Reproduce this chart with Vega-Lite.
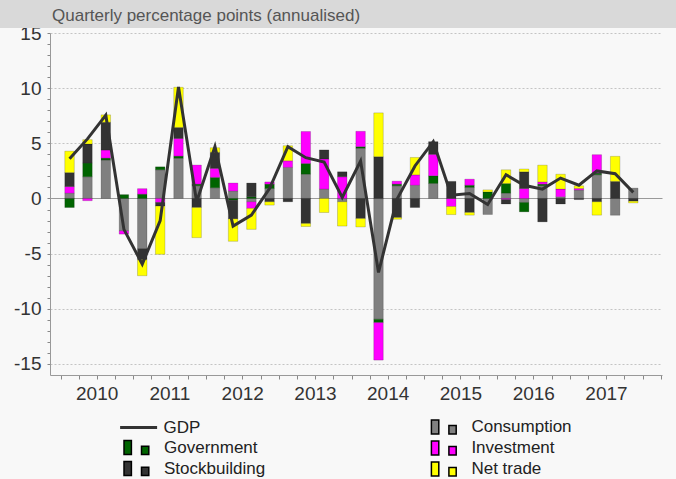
{
  "$schema": "https://vega.github.io/schema/vega-lite/v6.json",
  "width": 612,
  "height": 342,
  "autosize": {"type": "none"},
  "padding": {"left": 50, "top": 33, "right": 14, "bottom": 104},
  "background": "#f8f8f8",
  "config": {"view": {"stroke": null}, "font": "Liberation Sans"},
  "title": {"text": "Quarterly percentage points (annualised)", "anchor": "start", "frame": "group", "fontSize": 17, "fontWeight": "normal", "color": "#555555", "font": "Liberation Sans", "offset": -25, "dx": 2},
  "resolve": {"legend": {"color": "independent"}},
  "datasets": {
    "bars": [
      {"date": "2010-02-15", "component": "Consumption", "value": 0.48, "order": 1},
      {"date": "2010-02-15", "component": "Government", "value": -0.82, "order": 2},
      {"date": "2010-02-15", "component": "Investment", "value": 0.6, "order": 3},
      {"date": "2010-02-15", "component": "Stockbuilding", "value": 1.27, "order": 4},
      {"date": "2010-02-15", "component": "Net trade", "value": 1.94, "order": 5},
      {"date": "2010-05-16", "component": "Consumption", "value": 1.97, "order": 1},
      {"date": "2010-05-16", "component": "Government", "value": 1.24, "order": 2},
      {"date": "2010-05-16", "component": "Investment", "value": -0.2, "order": 3},
      {"date": "2010-05-16", "component": "Stockbuilding", "value": 1.73, "order": 4},
      {"date": "2010-05-16", "component": "Net trade", "value": 0.39, "order": 5},
      {"date": "2010-08-16", "component": "Consumption", "value": 3.48, "order": 1},
      {"date": "2010-08-16", "component": "Government", "value": 0.18, "order": 2},
      {"date": "2010-08-16", "component": "Investment", "value": 0.73, "order": 3},
      {"date": "2010-08-16", "component": "Stockbuilding", "value": 2.52, "order": 4},
      {"date": "2010-08-16", "component": "Net trade", "value": 0.67, "order": 5},
      {"date": "2010-11-15", "component": "Consumption", "value": -2.93, "order": 1},
      {"date": "2010-11-15", "component": "Government", "value": 0.35, "order": 2},
      {"date": "2010-11-15", "component": "Investment", "value": -0.3, "order": 3},
      {"date": "2011-02-15", "component": "Consumption", "value": -4.55, "order": 1},
      {"date": "2011-02-15", "component": "Government", "value": 0.39, "order": 2},
      {"date": "2011-02-15", "component": "Investment", "value": 0.5, "order": 3},
      {"date": "2011-02-15", "component": "Stockbuilding", "value": -1.0, "order": 4},
      {"date": "2011-02-15", "component": "Net trade", "value": -1.45, "order": 5},
      {"date": "2011-05-16", "component": "Consumption", "value": 2.6, "order": 1},
      {"date": "2011-05-16", "component": "Government", "value": 0.27, "order": 2},
      {"date": "2011-05-16", "component": "Investment", "value": -0.36, "order": 3},
      {"date": "2011-05-16", "component": "Stockbuilding", "value": -0.33, "order": 4},
      {"date": "2011-05-16", "component": "Net trade", "value": -4.37, "order": 5},
      {"date": "2011-08-16", "component": "Consumption", "value": 3.64, "order": 1},
      {"date": "2011-08-16", "component": "Government", "value": 0.2, "order": 2},
      {"date": "2011-08-16", "component": "Investment", "value": 1.6, "order": 3},
      {"date": "2011-08-16", "component": "Stockbuilding", "value": 1.0, "order": 4},
      {"date": "2011-08-16", "component": "Net trade", "value": 3.64, "order": 5},
      {"date": "2011-11-15", "component": "Consumption", "value": 1.15, "order": 1},
      {"date": "2011-11-15", "component": "Government", "value": 0.15, "order": 2},
      {"date": "2011-11-15", "component": "Investment", "value": 1.73, "order": 3},
      {"date": "2011-11-15", "component": "Stockbuilding", "value": -0.82, "order": 4},
      {"date": "2011-11-15", "component": "Net trade", "value": -2.73, "order": 5},
      {"date": "2012-02-15", "component": "Consumption", "value": 0.97, "order": 1},
      {"date": "2012-02-15", "component": "Government", "value": 0.94, "order": 2},
      {"date": "2012-02-15", "component": "Investment", "value": 0.82, "order": 3},
      {"date": "2012-02-15", "component": "Stockbuilding", "value": 1.45, "order": 4},
      {"date": "2012-02-15", "component": "Net trade", "value": 0.42, "order": 5},
      {"date": "2012-05-16", "component": "Consumption", "value": 0.67, "order": 1},
      {"date": "2012-05-16", "component": "Government", "value": -0.15, "order": 2},
      {"date": "2012-05-16", "component": "Investment", "value": 0.73, "order": 3},
      {"date": "2012-05-16", "component": "Stockbuilding", "value": -1.7, "order": 4},
      {"date": "2012-05-16", "component": "Net trade", "value": -2.03, "order": 5},
      {"date": "2012-08-16", "component": "Consumption", "value": -0.3, "order": 1},
      {"date": "2012-08-16", "component": "Government", "value": 0.15, "order": 2},
      {"date": "2012-08-16", "component": "Investment", "value": -0.6, "order": 3},
      {"date": "2012-08-16", "component": "Stockbuilding", "value": 1.25, "order": 4},
      {"date": "2012-08-16", "component": "Net trade", "value": -1.9, "order": 5},
      {"date": "2012-11-15", "component": "Consumption", "value": 0.9, "order": 1},
      {"date": "2012-11-15", "component": "Government", "value": 0.4, "order": 2},
      {"date": "2012-11-15", "component": "Investment", "value": 0.2, "order": 3},
      {"date": "2012-11-15", "component": "Stockbuilding", "value": -0.3, "order": 4},
      {"date": "2012-11-15", "component": "Net trade", "value": -0.3, "order": 5},
      {"date": "2013-02-15", "component": "Consumption", "value": 2.82, "order": 1},
      {"date": "2013-02-15", "component": "Investment", "value": 0.6, "order": 3},
      {"date": "2013-02-15", "component": "Stockbuilding", "value": -0.3, "order": 4},
      {"date": "2013-02-15", "component": "Net trade", "value": 1.36, "order": 5},
      {"date": "2013-05-16", "component": "Consumption", "value": 2.2, "order": 1},
      {"date": "2013-05-16", "component": "Government", "value": 0.97, "order": 2},
      {"date": "2013-05-16", "component": "Investment", "value": 2.9, "order": 3},
      {"date": "2013-05-16", "component": "Stockbuilding", "value": -2.27, "order": 4},
      {"date": "2013-05-16", "component": "Net trade", "value": -0.27, "order": 5},
      {"date": "2013-08-16", "component": "Consumption", "value": 0.85, "order": 1},
      {"date": "2013-08-16", "component": "Investment", "value": 2.73, "order": 3},
      {"date": "2013-08-16", "component": "Stockbuilding", "value": 0.82, "order": 4},
      {"date": "2013-08-16", "component": "Net trade", "value": -1.27, "order": 5},
      {"date": "2013-11-15", "component": "Consumption", "value": -0.3, "order": 1},
      {"date": "2013-11-15", "component": "Investment", "value": 1.97, "order": 3},
      {"date": "2013-11-15", "component": "Stockbuilding", "value": 0.45, "order": 4},
      {"date": "2013-11-15", "component": "Net trade", "value": -2.2, "order": 5},
      {"date": "2014-02-15", "component": "Consumption", "value": 4.55, "order": 1},
      {"date": "2014-02-15", "component": "Government", "value": 0.15, "order": 2},
      {"date": "2014-02-15", "component": "Investment", "value": 1.39, "order": 3},
      {"date": "2014-02-15", "component": "Stockbuilding", "value": -1.82, "order": 4},
      {"date": "2014-02-15", "component": "Net trade", "value": -0.76, "order": 5},
      {"date": "2014-05-16", "component": "Consumption", "value": -10.95, "order": 1},
      {"date": "2014-05-16", "component": "Government", "value": -0.3, "order": 2},
      {"date": "2014-05-16", "component": "Investment", "value": -3.4, "order": 3},
      {"date": "2014-05-16", "component": "Stockbuilding", "value": 3.79, "order": 4},
      {"date": "2014-05-16", "component": "Net trade", "value": 3.97, "order": 5},
      {"date": "2014-08-16", "component": "Consumption", "value": 1.15, "order": 1},
      {"date": "2014-08-16", "component": "Government", "value": 0.15, "order": 2},
      {"date": "2014-08-16", "component": "Investment", "value": 0.27, "order": 3},
      {"date": "2014-08-16", "component": "Stockbuilding", "value": -1.73, "order": 4},
      {"date": "2014-08-16", "component": "Net trade", "value": -0.15, "order": 5},
      {"date": "2014-11-15", "component": "Consumption", "value": 1.2, "order": 1},
      {"date": "2014-11-15", "component": "Investment", "value": 0.94, "order": 3},
      {"date": "2014-11-15", "component": "Stockbuilding", "value": -0.82, "order": 4},
      {"date": "2014-11-15", "component": "Net trade", "value": 1.58, "order": 5},
      {"date": "2015-02-15", "component": "Consumption", "value": 1.36, "order": 1},
      {"date": "2015-02-15", "component": "Government", "value": 0.7, "order": 2},
      {"date": "2015-02-15", "component": "Investment", "value": 1.94, "order": 3},
      {"date": "2015-02-15", "component": "Stockbuilding", "value": 1.15, "order": 4},
      {"date": "2015-05-16", "component": "Investment", "value": -0.73, "order": 3},
      {"date": "2015-05-16", "component": "Stockbuilding", "value": 1.55, "order": 4},
      {"date": "2015-05-16", "component": "Net trade", "value": -0.73, "order": 5},
      {"date": "2015-08-16", "component": "Consumption", "value": 1.0, "order": 1},
      {"date": "2015-08-16", "component": "Government", "value": 0.2, "order": 2},
      {"date": "2015-08-16", "component": "Investment", "value": 0.55, "order": 3},
      {"date": "2015-08-16", "component": "Stockbuilding", "value": -1.27, "order": 4},
      {"date": "2015-08-16", "component": "Net trade", "value": -0.24, "order": 5},
      {"date": "2015-11-15", "component": "Consumption", "value": -1.45, "order": 1},
      {"date": "2015-11-15", "component": "Government", "value": 0.6, "order": 2},
      {"date": "2015-11-15", "component": "Net trade", "value": 0.18, "order": 5},
      {"date": "2016-02-15", "component": "Consumption", "value": 0.48, "order": 1},
      {"date": "2016-02-15", "component": "Government", "value": 0.88, "order": 2},
      {"date": "2016-02-15", "component": "Investment", "value": -0.1, "order": 3},
      {"date": "2016-02-15", "component": "Stockbuilding", "value": -0.4, "order": 4},
      {"date": "2016-02-15", "component": "Net trade", "value": 1.24, "order": 5},
      {"date": "2016-05-16", "component": "Consumption", "value": -0.36, "order": 1},
      {"date": "2016-05-16", "component": "Government", "value": -0.85, "order": 2},
      {"date": "2016-05-16", "component": "Investment", "value": 0.9, "order": 3},
      {"date": "2016-05-16", "component": "Stockbuilding", "value": 1.52, "order": 4},
      {"date": "2016-05-16", "component": "Net trade", "value": 0.25, "order": 5},
      {"date": "2016-08-16", "component": "Consumption", "value": 1.15, "order": 1},
      {"date": "2016-08-16", "component": "Government", "value": 0.15, "order": 2},
      {"date": "2016-08-16", "component": "Investment", "value": 0.2, "order": 3},
      {"date": "2016-08-16", "component": "Stockbuilding", "value": -2.12, "order": 4},
      {"date": "2016-08-16", "component": "Net trade", "value": 1.52, "order": 5},
      {"date": "2016-11-15", "component": "Consumption", "value": 0.15, "order": 1},
      {"date": "2016-11-15", "component": "Investment", "value": 0.7, "order": 3},
      {"date": "2016-11-15", "component": "Stockbuilding", "value": -0.5, "order": 4},
      {"date": "2016-11-15", "component": "Net trade", "value": 1.35, "order": 5},
      {"date": "2017-02-15", "component": "Consumption", "value": 0.76, "order": 1},
      {"date": "2017-02-15", "component": "Investment", "value": 0.15, "order": 3},
      {"date": "2017-02-15", "component": "Stockbuilding", "value": -0.1, "order": 4},
      {"date": "2017-02-15", "component": "Net trade", "value": 0.24, "order": 5},
      {"date": "2017-05-16", "component": "Consumption", "value": 2.15, "order": 1},
      {"date": "2017-05-16", "component": "Government", "value": 0.15, "order": 2},
      {"date": "2017-05-16", "component": "Investment", "value": 1.67, "order": 3},
      {"date": "2017-05-16", "component": "Stockbuilding", "value": -0.3, "order": 4},
      {"date": "2017-05-16", "component": "Net trade", "value": -1.21, "order": 5},
      {"date": "2017-08-16", "component": "Consumption", "value": -1.52, "order": 1},
      {"date": "2017-08-16", "component": "Stockbuilding", "value": 1.55, "order": 4},
      {"date": "2017-08-16", "component": "Net trade", "value": 2.27, "order": 5},
      {"date": "2017-11-15", "component": "Consumption", "value": 0.94, "order": 1},
      {"date": "2017-11-15", "component": "Stockbuilding", "value": -0.25, "order": 4},
      {"date": "2017-11-15", "component": "Net trade", "value": -0.15, "order": 5}
    ],
    "gdp": [
      {"date": "2010-02-15", "value": 3.6},
      {"date": "2010-05-16", "value": 5.4},
      {"date": "2010-08-16", "value": 7.55},
      {"date": "2010-11-15", "value": -2.8},
      {"date": "2011-02-15", "value": -5.95},
      {"date": "2011-05-16", "value": -2.0},
      {"date": "2011-08-16", "value": 10.1},
      {"date": "2011-11-15", "value": -0.3},
      {"date": "2012-02-15", "value": 4.7},
      {"date": "2012-05-16", "value": -2.5},
      {"date": "2012-08-16", "value": -1.5},
      {"date": "2012-11-15", "value": 0.9},
      {"date": "2013-02-15", "value": 4.7},
      {"date": "2013-05-16", "value": 3.7},
      {"date": "2013-08-16", "value": 3.3},
      {"date": "2013-11-15", "value": 0.1},
      {"date": "2014-02-15", "value": 3.4},
      {"date": "2014-05-16", "value": -6.7},
      {"date": "2014-08-16", "value": -0.1},
      {"date": "2014-11-15", "value": 2.95},
      {"date": "2015-02-15", "value": 5.15},
      {"date": "2015-05-16", "value": 0.3},
      {"date": "2015-08-16", "value": 0.45},
      {"date": "2015-11-15", "value": -0.55},
      {"date": "2016-02-15", "value": 2.15},
      {"date": "2016-05-16", "value": 1.2},
      {"date": "2016-08-16", "value": 0.85},
      {"date": "2016-11-15", "value": 1.85},
      {"date": "2017-02-15", "value": 1.2},
      {"date": "2017-05-16", "value": 2.5},
      {"date": "2017-08-16", "value": 2.25},
      {"date": "2017-11-15", "value": 0.55}
    ]
  },
  "layer": [
    {
      "data": {"values": [{}]},
      "mark": {"type": "rect", "color": "#d9d9d9"},
      "encoding": {
        "x": {"datum": {"year": 2008, "utc": true}, "type": "temporal"},
        "x2": {"datum": {"year": 2020, "utc": true}},
        "y": {"datum": 15.45, "type": "quantitative"},
        "y2": {"datum": 18}
      }
    },
    {
      "data": {"name": "bars"},
      "mark": {"type": "bar", "width": 9.5, "stroke": "#000000", "strokeOpacity": 0.22, "strokeWidth": 0.8},
      "encoding": {
        "x": {
          "field": "date", "type": "temporal",
          "scale": {"type": "utc", "domain": [{"year": 2009, "month": 12, "date": 4, "utc": true}, {"year": 2018, "month": 3, "date": 14, "utc": true}]},
          "axis": {
            "title": null, "grid": false,
            "tickCount": {"interval": "month", "step": 3},
            "labelExpr": "utcmonth(datum.value) === 6 ? utcFormat(datum.value, '%Y') : ''",
            "labelOverlap": false, "labelFlush": false,
            "tickSize": 4, "tickColor": "#888888", "domainColor": "#999999",
            "labelFontSize": 19, "labelColor": "#333333", "labelPadding": 5, "labelFont": "Liberation Sans"
          }
        },
        "y": {
          "field": "value", "type": "quantitative", "stack": "zero",
          "scale": {"domain": [-16, 15], "nice": false, "zero": false},
          "axis": {
            "title": null,
            "values": [-15,-14,-13,-12,-11,-10,-9,-8,-7,-6,-5,-4,-3,-2,-1,0,1,2,3,4,5,6,7,8,9,10,11,12,13,14,15],
            "tickCount": 100,
            "labelExpr": "datum.value % 5 === 0 ? '' + datum.value : ''",
            "tickSize": 3, "tickColor": "#888888", "domainColor": "#999999",
            "labelFontSize": 19, "labelColor": "#333333", "labelPadding": 6, "labelFont": "Liberation Sans",
            "labelOverlap": false,
            "grid": true,
            "gridColor": {"condition": {"test": "datum.value === 0", "value": "#9a9a9a"}, "value": "#c4c4c4"},
            "gridOpacity": {"condition": {"test": "datum.value % 5 === 0", "value": 1}, "value": 0},
            "gridDash": {"condition": {"test": "datum.value === 0", "value": []}, "value": [2, 2]}
          }
        },
        "color": {
          "field": "component", "type": "nominal",
          "scale": {
            "domain": ["GDP", "Consumption", "Government", "Investment", "Stockbuilding", "Net trade"],
            "range": ["#333333", "#808080", "#006400", "#ff00ff", "#333333", "#ffff00"]
          },
          "legend": {
            "orient": "none", "legendX": 74, "legendY": 406,
            "values": ["Government", "Stockbuilding"],
            "title": null,
            "symbolType": "M-1.7,-1.4H-0.22V1.4H-1.7Z M1.8,-0.26H3.26V1.4H1.8Z",
            "symbolSize": 100, "symbolOpacity": 1,
            "labelFontSize": 17, "labelColor": "#222222", "labelFont": "Liberation Sans",
            "labelOffset": 23, "rowPadding": 0
          }
        },
        "order": {"field": "order", "type": "quantitative"}
      }
    },
    {
      "data": {"name": "bars"},
      "mark": {"type": "bar", "width": 9.5, "opacity": 0, "stroke": "#000000", "strokeOpacity": 0.22, "strokeWidth": 0.8},
      "encoding": {
        "x": {"field": "date", "type": "temporal"},
        "y": {"field": "value", "type": "quantitative", "stack": "zero"},
        "color": {
          "field": "component", "type": "nominal",
          "legend": {
            "orient": "none", "legendX": 381.4, "legendY": 385.4,
            "values": ["Consumption", "Investment", "Net trade"],
            "title": null,
            "symbolType": "M-1.7,-1.4H-0.22V1.4H-1.7Z M1.8,-0.26H3.26V1.4H1.8Z",
            "symbolSize": 100, "symbolOpacity": 1,
            "labelFontSize": 17, "labelColor": "#222222", "labelFont": "Liberation Sans",
            "labelOffset": 23, "rowPadding": 0
          }
        },
        "order": {"field": "order", "type": "quantitative"}
      }
    },
    {
      "data": {"name": "gdp"},
      "mark": {"type": "line", "strokeWidth": 3},
      "encoding": {
        "x": {"field": "date", "type": "temporal"},
        "y": {"field": "value", "type": "quantitative"},
        "color": {
          "datum": "GDP",
          "legend": {
            "orient": "none", "legendX": 68.6, "legendY": 374.5,
            "values": ["GDP"],
            "title": null,
            "symbolType": "stroke", "symbolSize": 1369, "symbolStrokeWidth": 3,
            "labelFontSize": 17, "labelColor": "#222222", "labelFont": "Liberation Sans",
            "labelOffset": 5
          }
        }
      }
    }
  ]
}
